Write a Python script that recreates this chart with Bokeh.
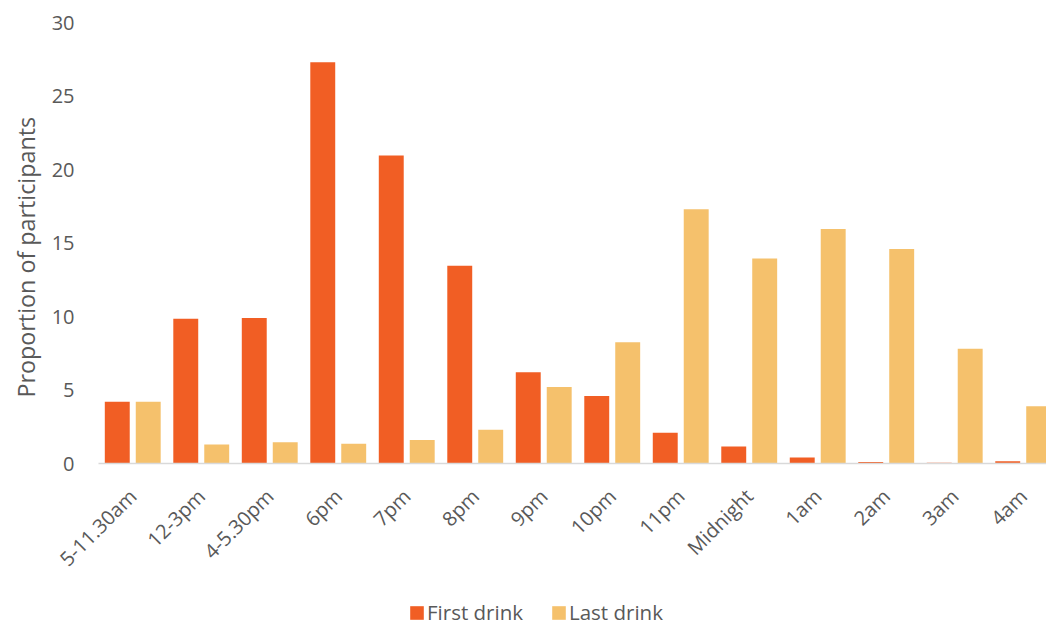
import math
from bokeh.plotting import figure
from bokeh.layouts import column
from bokeh.models import ColumnDataSource, Range1d, FixedTicker, Legend, LegendItem, Title
from bokeh.transform import dodge
from bokeh.embed import file_html
from bokeh.resources import INLINE

categories = ["5-11.30am", "12-3pm", "4-5.30pm", "6pm", "7pm", "8pm", "9pm",
              "10pm", "11pm", "Midnight", "1am", "2am", "3am", "4am"]
first_drink = [4.2, 9.85, 9.9, 27.3, 20.95, 13.45, 6.2, 4.6, 2.1, 1.15, 0.4, 0.1, 0.05, 0.15]
last_drink = [4.2, 1.3, 1.45, 1.35, 1.6, 2.3, 5.2, 8.25, 17.3, 13.95, 15.95, 14.6, 7.8, 3.9]
y_ticks = [0, 5, 10, 15, 20, 25, 30]
series_names = ["First drink", "Last drink"]

FONT = "Open Sans"
TXT = "#595959"
C_FIRST = "#F15E24"
C_LAST = "#F5C16C"

src = ColumnDataSource(dict(x=list(range(len(categories))), first=first_drink, last=last_drink))

p = figure(width=1046, height=590, output_backend="svg", toolbar_location=None,
           x_range=Range1d(-0.5, 13.34), y_range=Range1d(0, 30),
           min_border_left=97, min_border_right=0, min_border_top=22, min_border_bottom=127)
p.outline_line_color = None
p.background_fill_color = "white"
p.border_fill_color = "white"
p.xgrid.visible = False
p.ygrid.visible = False

p.vbar(x=dodge("x", -0.226), top="first", width=0.364, source=src,
       fill_color=C_FIRST, line_color=None)
p.vbar(x=dodge("x", 0.226), top="last", width=0.364, source=src,
       fill_color=C_LAST, line_color=None)

# y axis
p.yaxis.ticker = FixedTicker(ticks=y_ticks)
p.yaxis.axis_line_color = None
p.yaxis.major_tick_line_color = None
p.yaxis.major_tick_out = 0
p.yaxis.major_tick_in = 0
p.yaxis.minor_tick_line_color = None
p.yaxis.major_label_standoff = 24
p.yaxis.major_label_text_font = FONT
p.yaxis.major_label_text_font_size = "20px"
p.yaxis.major_label_text_color = TXT

ytitle = Title(text="Proportion of participants", align="left", offset=66,
               text_font=FONT, text_font_size="23.3px", text_font_style="normal",
               text_color=TXT, standoff=14)
p.add_layout(ytitle, "left")

# x axis
p.xaxis.ticker = FixedTicker(ticks=list(range(len(categories))))
p.xaxis.major_label_overrides = {i: c for i, c in enumerate(categories)}
p.xaxis.axis_line_color = "#D9D9D9"
p.xaxis.axis_line_width = 1.5
p.xaxis.major_tick_line_color = None
p.xaxis.major_tick_out = 0
p.xaxis.major_tick_in = 0
p.xaxis.minor_tick_line_color = None
p.xaxis.major_label_orientation = math.pi / 4
p.xaxis.major_label_standoff = 29
p.xaxis.major_label_text_font = FONT
p.xaxis.major_label_text_font_size = "20px"
p.xaxis.major_label_text_color = TXT

# legend strip (frame aligned with the main plot's frame)
lg = figure(width=1046, height=36, output_backend="svg", toolbar_location=None,
            x_axis_location=None, y_axis_location=None,
            x_range=Range1d(0, 1), y_range=Range1d(0, 1),
            min_border=0)
lg.outline_line_color = None
lg.xgrid.visible = False
lg.ygrid.visible = False
# zero-size proxy glyphs that only supply the legend swatches
k1 = lg.vbar(x=[0.5], top=[0], bottom=[0], width=0, fill_color=C_FIRST, line_color=None)
k2 = lg.vbar(x=[0.5], top=[0], bottom=[0], width=0, fill_color=C_LAST, line_color=None)
legend = Legend(items=[LegendItem(label=series_names[0], renderers=[k1]),
                       LegendItem(label=series_names[1], renderers=[k2])],
                orientation="horizontal", location=(310, 0),
                padding=0, margin=0, spacing=27, label_standoff=2,
                glyph_width=17, glyph_height=17, label_height=20,
                label_text_font=FONT, label_text_font_size="20.5px",
                label_text_color=TXT, border_line_color=None,
                background_fill_alpha=0)
lg.add_layout(legend, "center")

layout = column(p, lg, spacing=0)
open("out.html", "w").write(file_html(layout, INLINE))
